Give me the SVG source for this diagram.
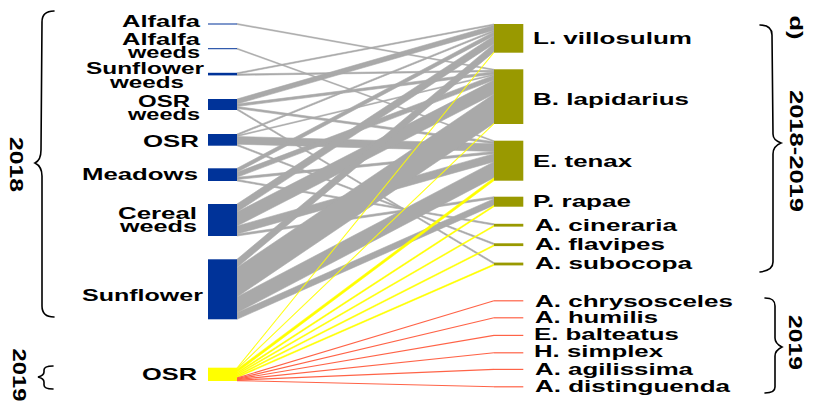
<svg xmlns="http://www.w3.org/2000/svg" width="815" height="406" viewBox="0 0 815 406">
<style>
.lab{font-family:"Liberation Sans",Arial,sans-serif;font-weight:bold;font-size:16.5px;fill:#000}
.rot{font-family:"Liberation Sans",Arial,sans-serif;font-weight:bold;font-size:19px;fill:#000}
.lo{fill:#003399}
.hi{fill:#999900}
.yb{fill:#FFFF00}
.ob{fill:#FF6347}
.g{fill:#A9A9A9;stroke:#A9A9A9;stroke-width:0.6;stroke-linejoin:round}
.y{fill:#FFFF00;stroke:#FFFF00;stroke-width:0.5;stroke-linejoin:round}
.r{fill:none;stroke:#FF6347;stroke-width:1.1}
.brace{fill:none;stroke:#000;stroke-width:1.6;stroke-linecap:round}
</style>
<rect width="815" height="406" fill="#fff"/>
<g id="connectors">
<polygon class="g" points="237,23.5 494,69.3 494,70.29 237,24.5"/>
<polygon class="g" points="237,48.2 494,140.7 494,141.7 237,49.2"/>
<polygon class="g" points="237,72.8 494,24 494,25.2 237,74"/>
<polygon class="g" points="237,74 494,70.29 494,71.68 237,75.4"/>
<polygon class="g" points="237,99 494,25.2 494,30.2 237,104"/>
<polygon class="g" points="237,104 494,71.68 494,74.16 237,106.5"/>
<polygon class="g" points="237,106.5 494,141.7 494,143.72 237,108.5"/>
<polygon class="g" points="237,108.5 494,262.6 494,264.1 237,110"/>
<polygon class="g" points="237,134 494,30.2 494,31.7 237,135.5"/>
<polygon class="g" points="237,135.5 494,74.16 494,75.15 237,136.5"/>
<polygon class="g" points="237,136.5 494,143.72 494,151.46 237,144.2"/>
<polygon class="g" points="237,144.2 494,243.3 494,244.8 237,145.7"/>
<polygon class="g" points="237,168.3 494,31.7 494,35.7 237,172.3"/>
<polygon class="g" points="237,172.3 494,75.15 494,80.11 237,177.3"/>
<polygon class="g" points="237,177.3 494,151.46 494,153.67 237,179.5"/>
<polygon class="g" points="237,179.5 494,223.8 494,225.3 237,181"/>
<polygon class="g" points="237,204 494,35.7 494,43.7 237,212"/>
<polygon class="g" points="237,212 494,80.11 494,94.01 237,226"/>
<polygon class="g" points="237,226 494,153.67 494,161.71 237,234"/>
<polygon class="g" points="237,234 494,196.7 494,198.7 237,236"/>
<polygon class="g" points="237,259.3 494,43.7 494,51.9 237,267.5"/>
<polygon class="g" points="237,267.5 494,94.01 494,123.2 237,296.9"/>
<polygon class="g" points="237,296.9 494,161.71 494,177.69 237,312.8"/>
<polygon class="g" points="237,312.8 494,198.7 494,205.2 237,319.3"/>
<polygon class="y" points="237,367.7 494,51.9 494,52.7 237,368.5"/>
<polygon class="y" points="237,368.5 494,123.2 494,124 237,369.3"/>
<polygon class="y" points="237,369.3 494,177.69 494,180.7 237,372.3"/>
<polygon class="y" points="237,372.3 494,205.2 494,206.7 237,373.8"/>
<polygon class="y" points="237,373.8 494,225.3 494,226.6 237,375.1"/>
<polygon class="y" points="237,375.1 494,244.8 494,246.1 237,376.4"/>
<polygon class="y" points="237,376.4 494,264.1 494,265.4 237,377.7"/>
<line class="r" x1="237" y1="378" x2="494" y2="300.8"/>
<line class="r" x1="237" y1="378.6" x2="494" y2="317.8"/>
<line class="r" x1="237" y1="379.1" x2="494" y2="335.4"/>
<line class="r" x1="237" y1="379.6" x2="494" y2="352.8"/>
<line class="r" x1="237" y1="380.1" x2="494" y2="369.4"/>
<line class="r" x1="237" y1="380.6" x2="494" y2="386.8"/>
</g>
<g id="n-alfalfa"><rect class="lo" x="208" y="23.5" width="29" height="1"/><text class="lab" x="122" y="27" textLength="78" lengthAdjust="spacingAndGlyphs">Alfalfa</text></g>
<g id="n-alfalfa-weeds"><rect class="lo" x="208" y="48.2" width="29" height="1"/><text class="lab" x="122" y="45" textLength="78" lengthAdjust="spacingAndGlyphs">Alfalfa</text><text class="lab" x="128" y="58" textLength="72" lengthAdjust="spacingAndGlyphs">weeds</text></g>
<g id="n-sunflower-weeds"><rect class="lo" x="208" y="72.8" width="29" height="2.6"/><text class="lab" x="86" y="74" textLength="118" lengthAdjust="spacingAndGlyphs">Sunflower</text><text class="lab" x="110" y="88" textLength="74" lengthAdjust="spacingAndGlyphs">weeds</text></g>
<g id="n-osr-weeds"><rect class="lo" x="208" y="99" width="29" height="11"/><text class="lab" x="138" y="107.3" textLength="52" lengthAdjust="spacingAndGlyphs">OSR</text><text class="lab" x="128" y="119.5" textLength="72" lengthAdjust="spacingAndGlyphs">weeds</text></g>
<g id="n-osr-2018"><rect class="lo" x="208" y="134" width="29" height="11.7"/><text class="lab" x="143" y="146.5" textLength="56" lengthAdjust="spacingAndGlyphs">OSR</text></g>
<g id="n-meadows"><rect class="lo" x="208" y="168.3" width="29" height="12.7"/><text class="lab" x="82" y="180" textLength="116" lengthAdjust="spacingAndGlyphs">Meadows</text></g>
<g id="n-cereal-weeds"><rect class="lo" x="208" y="204" width="29" height="32"/><text class="lab" x="118" y="219.3" textLength="79" lengthAdjust="spacingAndGlyphs">Cereal</text><text class="lab" x="120" y="231.7" textLength="77" lengthAdjust="spacingAndGlyphs">weeds</text></g>
<g id="n-sunflower"><rect class="lo" x="208" y="259.3" width="29" height="60"/><text class="lab" x="82" y="300.5" textLength="121" lengthAdjust="spacingAndGlyphs">Sunflower</text></g>
<g id="n-osr-2019"><rect class="yb" x="208" y="367.7" width="29" height="13.3"/><text class="lab" x="142" y="380" textLength="55" lengthAdjust="spacingAndGlyphs">OSR</text></g>
<g id="n-l-villosulum"><rect class="hi" x="494" y="24" width="29.3" height="28.7"/><text class="lab" x="533" y="44" textLength="159" lengthAdjust="spacingAndGlyphs">L. villosulum</text></g>
<g id="n-b-lapidarius"><rect class="hi" x="494" y="69.3" width="29.3" height="54.7"/><text class="lab" x="533" y="105" textLength="156" lengthAdjust="spacingAndGlyphs">B. lapidarius</text></g>
<g id="n-e-tenax"><rect class="hi" x="494" y="140.7" width="29.3" height="40"/><text class="lab" x="533" y="167" textLength="99" lengthAdjust="spacingAndGlyphs">E. tenax</text></g>
<g id="n-p-rapae"><rect class="hi" x="494" y="196.7" width="29.3" height="10"/><text class="lab" x="533" y="207" textLength="98" lengthAdjust="spacingAndGlyphs">P. rapae</text></g>
<g id="n-a-cineraria"><rect class="hi" x="494" y="223.8" width="29.3" height="2.8"/><text class="lab" x="535" y="230.5" textLength="142" lengthAdjust="spacingAndGlyphs">A. cineraria</text></g>
<g id="n-a-flavipes"><rect class="hi" x="494" y="243.3" width="29.3" height="2.8"/><text class="lab" x="535" y="250.3" textLength="130" lengthAdjust="spacingAndGlyphs">A. flavipes</text></g>
<g id="n-a-subocopa"><rect class="hi" x="494" y="262.6" width="29.3" height="2.8"/><text class="lab" x="535" y="269" textLength="157" lengthAdjust="spacingAndGlyphs">A. subocopa</text></g>
<g id="n-a-chrysosceles"><rect class="ob" x="494" y="300.2" width="29.3" height="1.2"/><text class="lab" x="535" y="306.6" textLength="198" lengthAdjust="spacingAndGlyphs">A. chrysosceles</text></g>
<g id="n-a-humilis"><rect class="ob" x="494" y="317.2" width="29.3" height="1.2"/><text class="lab" x="535" y="323.3" textLength="123" lengthAdjust="spacingAndGlyphs">A. humilis</text></g>
<g id="n-e-balteatus"><rect class="ob" x="494" y="334.8" width="29.3" height="1.2"/><text class="lab" x="534" y="340" textLength="145" lengthAdjust="spacingAndGlyphs">E. balteatus</text></g>
<g id="n-h-simplex"><rect class="ob" x="494" y="352.2" width="29.3" height="1.2"/><text class="lab" x="534" y="357.3" textLength="129" lengthAdjust="spacingAndGlyphs">H. simplex</text></g>
<g id="n-a-agilissima"><rect class="ob" x="494" y="368.8" width="29.3" height="1.2"/><text class="lab" x="535" y="375" textLength="158" lengthAdjust="spacingAndGlyphs">A. agilissima</text></g>
<g id="n-a-distinguenda"><rect class="ob" x="494" y="386.2" width="29.3" height="1.2"/><text class="lab" x="535" y="391.7" textLength="195" lengthAdjust="spacingAndGlyphs">A. distinguenda</text></g>
<g id="braces">
<path class="brace" d="M54,11 C46,11 42,15 42,22 L41,150 C41,157 39,161 35,163 C39,165 42,169 42,176 L42,306 C42,313 46,317 54,317"/>
<path class="brace" d="M53,366 C47,366 44,367 44,370 L44,372 C44,375 42,376 38,377 C42,378 44,379 44,382 L44,385 C44,388 47,389 53,389"/>
<path class="brace" d="M760,25 C767,25 772,28 772,35 L773,134 C773,139 776,141 781,143 C776,145 773,148 773,154 L773,262 C773,268 768,271 760,272"/>
<path class="brace" d="M765,298 C772,298 775,300 775,306 L775,338 C775,343 778,345 782,347 C778,349 775,351 775,356 L775,387 C775,391 771,393 765,393"/>
</g>
<g id="side-labels">
<text class="rot" transform="translate(10,164.5) rotate(90)" x="0" y="0" text-anchor="middle" textLength="55" lengthAdjust="spacingAndGlyphs">2018</text>
<text class="rot" transform="translate(13,375) rotate(90)" x="0" y="0" text-anchor="middle" textLength="53" lengthAdjust="spacingAndGlyphs">2019</text>
<text class="rot" transform="translate(790,151) rotate(90)" x="0" y="0" text-anchor="middle" textLength="122" lengthAdjust="spacingAndGlyphs">2018-2019</text>
<text class="rot" transform="translate(789,342.5) rotate(90)" x="0" y="0" text-anchor="middle" textLength="55" lengthAdjust="spacingAndGlyphs">2019</text>
<text class="rot" transform="translate(790,27.5) rotate(90)" x="0" y="0" text-anchor="middle" textLength="24" lengthAdjust="spacingAndGlyphs">d)</text>
</g>
</svg>
